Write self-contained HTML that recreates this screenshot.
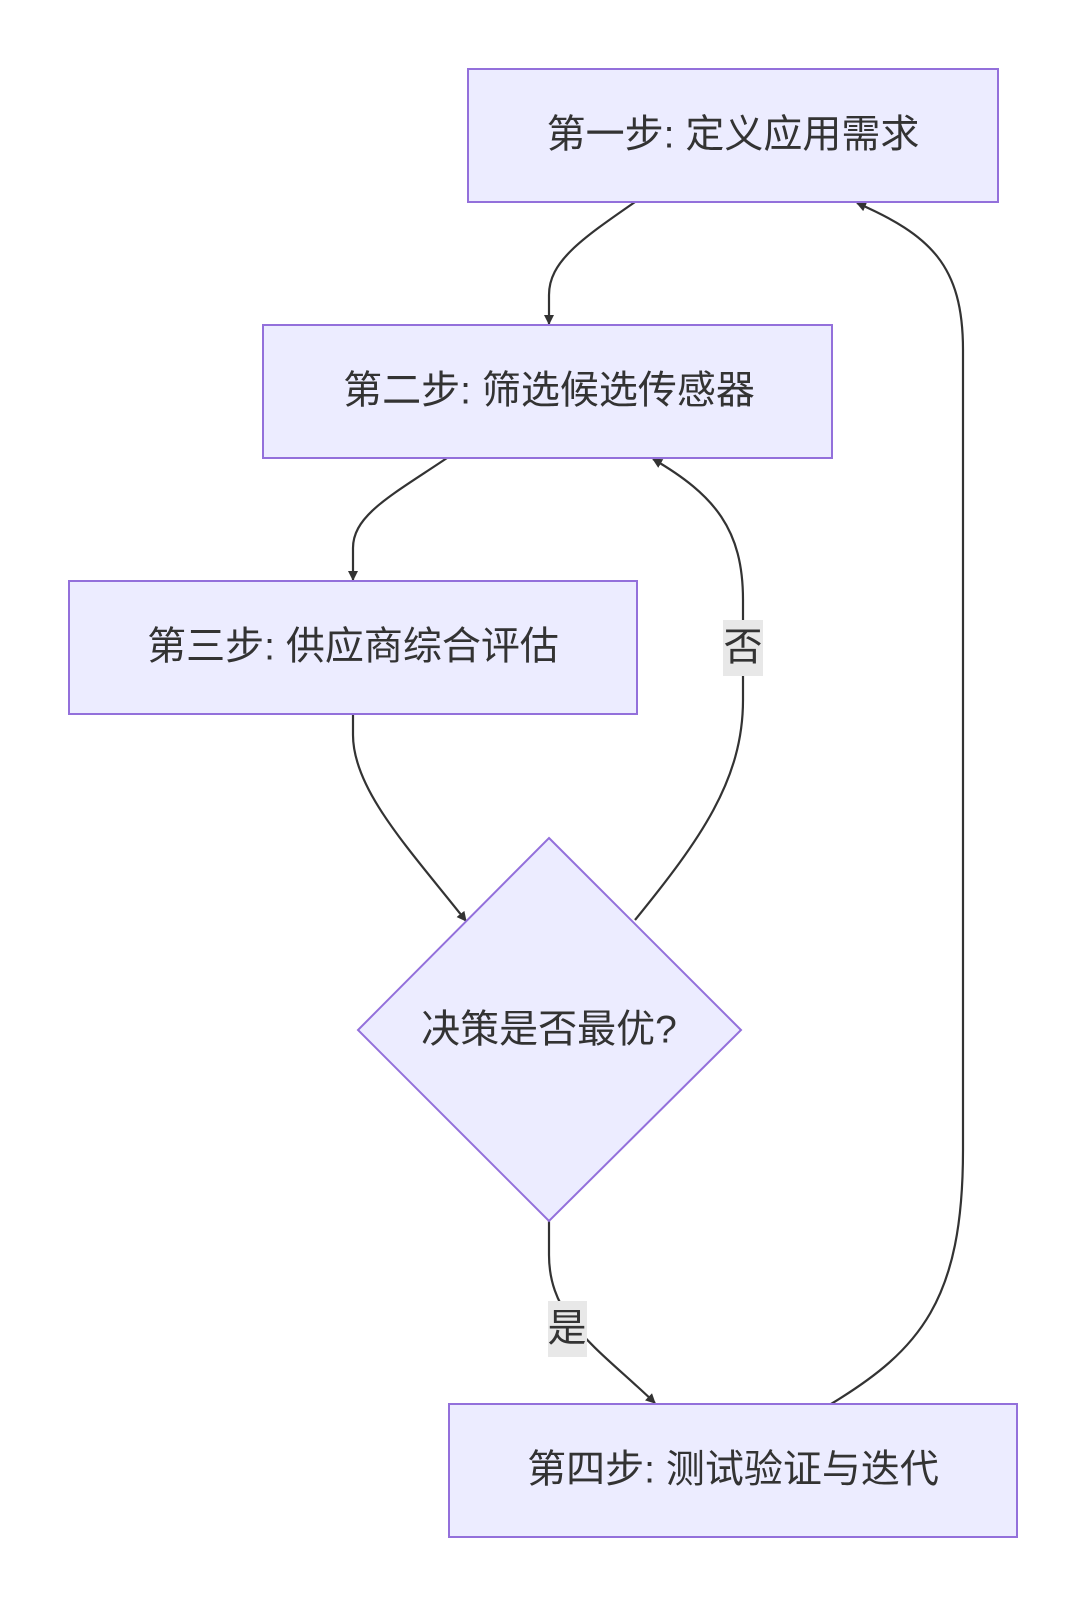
<!DOCTYPE html>
<html><head><meta charset="utf-8"><style>
html,body{margin:0;padding:0;background:#fff;}
svg text{font-family:"Liberation Sans","Noto Sans CJK SC",sans-serif;font-size:39px;fill:#333;}
</style></head><body>
<svg width="1080" height="1597" viewBox="0 0 1080 1597" xmlns="http://www.w3.org/2000/svg">
<defs>
<marker id="a" viewBox="0 0 10 10" refX="9" refY="5" markerWidth="10" markerHeight="10" markerUnits="userSpaceOnUse" orient="auto">
<path d="M0,0 L10,5 L0,10 z" fill="#333"/>
</marker>
</defs>
<g fill="none" stroke="#333" stroke-width="2.2">
<path d="M635,202 C580,240 549,262 549,295 L549,324" marker-end="url(#a)" style="marker-end:url(#a)"/>
<path d="M447,458 C392,495 353,515 353,548 L353,580" style="marker-end:url(#a)"/>
<path d="M353,714 L353,735 C353,790 410,850 466,921" style="marker-end:url(#a)"/>
<path d="M635,920 C700,840 743,780 743,700 L743,600 C743,530 715,495 653,459" style="marker-end:url(#a)"/>
<path d="M549,1221 L549,1255 C549,1320 600,1350 655,1403" style="marker-end:url(#a)"/>
<path d="M831,1404 C920,1350 963,1300 963,1150 L963,350 C963,265 930,235 857,203" style="marker-end:url(#a)"/>
</g>
<g fill="#ececff" stroke="#9370db" stroke-width="2">
<rect x="468" y="69" width="530" height="133"/>
<rect x="263" y="325" width="569" height="133"/>
<rect x="69" y="581" width="568" height="133"/>
<polygon points="549,838 741,1030 549,1221 358,1030"/>
<rect x="449" y="1404" width="568" height="133"/>
</g>
<rect x="723" y="620" width="40" height="56" fill="#e8e8e8"/>
<rect x="548" y="1301" width="39" height="56" fill="#e8e8e8"/>
<g text-anchor="middle" dominant-baseline="central">
<text x="733" y="135">第一步: 定义应用需求</text>
<text x="549" y="391">第二步: 筛选候选传感器</text>
<text x="353" y="647">第三步: 供应商综合评估</text>
<text x="549" y="1030">决策是否最优?</text>
<text x="733" y="1470">第四步: 测试验证与迭代</text>
<text x="743" y="648">否</text>
<text x="567" y="1329">是</text>
</g>
</svg>
</body></html>
